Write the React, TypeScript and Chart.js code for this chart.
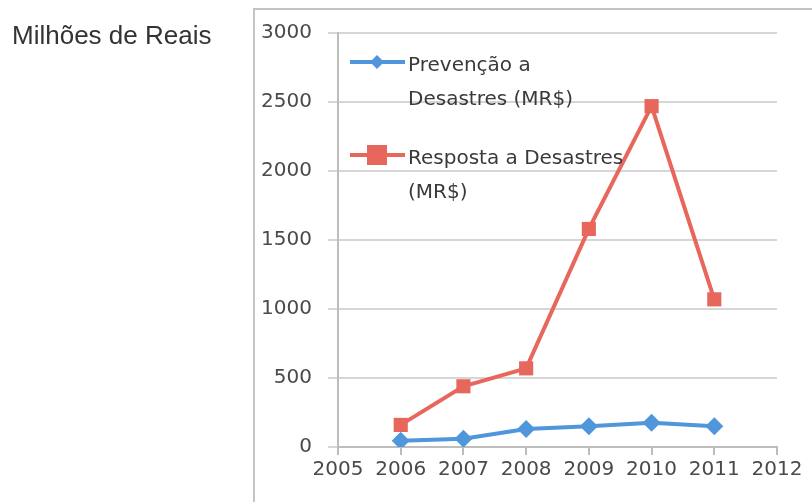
import React, { useEffect, useRef } from "react";
import { Chart, registerables } from "chart.js";

Chart.register(...registerables);

const years = [2006, 2007, 2008, 2009, 2010, 2011];
const prevencao = [45, 60, 130, 150, 175, 150];
const resposta = [160, 440, 570, 1580, 2470, 1070];
const xTicks = [2005, 2006, 2007, 2008, 2009, 2010, 2011, 2012];
const yTicks = [0, 500, 1000, 1500, 2000, 2500, 3000];
const legendPrev = ["Prevenção a", "Desastres (MR$)"];
const legendResp = ["Resposta a Desastres", "(MR$)"];
const yTitle = "Milhões de Reais";

const BLUE = "#4F97DA";
const RED = "#E8675D";
const FONT = "'DejaVu Sans', sans-serif";

export default function App() {
  const ref = useRef<HTMLCanvasElement | null>(null);

  useEffect(() => {
    if (!ref.current) return;
    const framePlugin = {
      id: "frame",
      beforeDraw(chart: any) {
        const ctx = chart.ctx;
        ctx.save();
        ctx.fillStyle = "#ffffff";
        ctx.fillRect(0, 0, chart.width, chart.height);
        ctx.strokeStyle = "#c4c4c4";
        ctx.lineWidth = 2;
        ctx.beginPath();
        ctx.moveTo(254, chart.height + 5);
        ctx.lineTo(254, 9);
        ctx.lineTo(chart.width + 5, 9);
        ctx.stroke();
        ctx.font = "26px 'Liberation Sans', Arial, sans-serif";
        ctx.fillStyle = "#333333";
        ctx.textBaseline = "alphabetic";
        ctx.fillText(yTitle, 12, 44);
        ctx.restore();
      },
    };
    const legendPlugin = {
      id: "customLegend",
      afterDraw(chart: any) {
        const ctx = chart.ctx;
        const left = chart.chartArea.left + 12;
        const entries = [
          { lines: legendPrev, color: BLUE, kind: "diamond", y: chart.chartArea.top + 29 },
          { lines: legendResp, color: RED, kind: "square", y: chart.chartArea.top + 122 },
        ];
        ctx.save();
        for (const e of entries) {
          ctx.strokeStyle = e.color;
          ctx.fillStyle = e.color;
          ctx.lineWidth = 4;
          ctx.beginPath();
          ctx.moveTo(left, e.y);
          ctx.lineTo(left + 55, e.y);
          ctx.stroke();
          const cx = left + 27;
          if (e.kind === "diamond") {
            ctx.beginPath();
            ctx.moveTo(cx, e.y - 7);
            ctx.lineTo(cx + 7, e.y);
            ctx.lineTo(cx, e.y + 7);
            ctx.lineTo(cx - 7, e.y);
            ctx.closePath();
            ctx.fill();
          } else {
            ctx.fillRect(cx - 10, e.y - 10, 20, 20);
          }
          ctx.fillStyle = "#3a3a3a";
          ctx.font = "20px " + FONT;
          ctx.textBaseline = "middle";
          e.lines.forEach((t, i) => ctx.fillText(t, left + 58, e.y + 4 + i * 34));
        }
        ctx.restore();
      },
    };
    const chart = new Chart(ref.current, {
      type: "line",
      data: {
        datasets: [
          {
            label: legendResp.join(" "),
            data: years.map((x, i) => ({ x, y: resposta[i] })),
            borderColor: RED,
            backgroundColor: RED,
            borderWidth: 4,
            pointStyle: "rect",
            pointRadius: 10,
            pointHoverRadius: 10,
            pointBorderWidth: 0,
          },
          {
            label: legendPrev.join(" "),
            data: years.map((x, i) => ({ x, y: prevencao[i] })),
            borderColor: BLUE,
            backgroundColor: BLUE,
            borderWidth: 4,
            pointStyle: "rectRot",
            pointRadius: 9,
            pointHoverRadius: 9,
            pointBorderWidth: 0,
          },
        ],
      },
      options: {
        animation: false,
        responsive: false,
        maintainAspectRatio: false,
        layout: { padding: { left: 253, top: 33, right: 35, bottom: 0 } },
        plugins: { legend: { display: false }, tooltip: { enabled: false } },
        scales: {
          x: {
            type: "linear",
            min: 2005,
            max: 2012,
            afterBuildTicks: (axis: any) => {
              axis.ticks = xTicks.map((v) => ({ value: v }));
            },
            afterFit: (axis: any) => {
              axis.height = 55;
            },
            ticks: {
              color: "#4a4a4a",
              font: { family: FONT, size: 20 },
              padding: 3,
              callback: (v: any) => String(v),
            },
            grid: { display: true, drawOnChartArea: false, color: "#bdbdbd", lineWidth: 2, tickLength: 8 },
            border: { color: "#bdbdbd", width: 2 },
          },
          y: {
            min: 0,
            max: 3000,
            afterBuildTicks: (axis: any) => {
              axis.ticks = yTicks.map((v) => ({ value: v }));
            },
            afterFit: (axis: any) => {
              axis.width = 85;
            },
            ticks: {
              color: "#4a4a4a",
              font: { family: FONT, size: 20 },
              padding: 16,
              callback: (v: any) => String(v),
            },
            grid: { color: "#d6d6d6", lineWidth: 2, tickLength: 10 },
            border: { color: "#bdbdbd", width: 2 },
          },
        },
      },
      plugins: [framePlugin, legendPlugin],
    });
    return () => chart.destroy();
  }, []);

  return (
    <div style={{ position: "fixed", left: 0, top: 0, width: 812, height: 502 }}>
      <canvas ref={ref} width={812} height={502} style={{ display: "block" }} />
    </div>
  );
}
